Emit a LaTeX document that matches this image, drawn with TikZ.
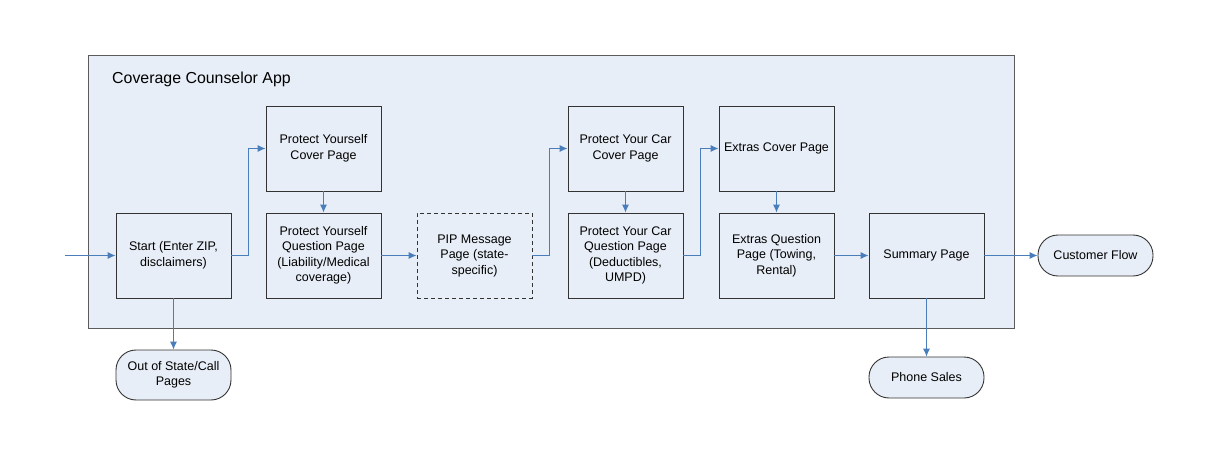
\documentclass[tikz,border=0pt]{standalone}
\usepackage{fontspec}
\setmainfont{Liberation Sans}
\usetikzlibrary{arrows.meta}
\definecolor{appfill}{HTML}{E8EEF7}
\definecolor{flowblue}{HTML}{4A7EBB}
\definecolor{edgegray}{HTML}{333333}
\tikzset{
	pagebox/.style={shape=rectangle, draw=edgegray, fill=appfill, line width=0.9pt, minimum width=115pt, minimum height=85pt, inner sep=2pt, align=center, font=\fontsize{12.5}{15.5}\selectfont},
	termbox/.style={shape=rectangle, rounded corners=20pt, draw=edgegray, fill=appfill, line width=0.9pt, minimum width=115pt, minimum height=41pt, inner sep=2pt, align=center, font=\fontsize{12.5}{15.5}\selectfont},
	flow/.style={draw=flowblue, line width=0.9pt, -{Latex[length=8pt,width=7pt]}}
}
\begin{document}
\begin{tikzpicture}[x=1pt, y=-1pt]
	\useasboundingbox (0,0) rectangle (1216,468);
	% Container and title:
	\node[shape=rectangle, draw=edgegray!80, fill=appfill, line width=1pt, minimum width=926pt, minimum height=272pt](app) at (551, 192){};
	\node[anchor=west, inner sep=0pt, font=\fontsize{15.9}{18}\selectfont](title) at (112, 79){Coverage Counselor App};
	% Pages:
	\node[pagebox](start) at (173.5, 255.5){Start (Enter ZIP,\\disclaimers)};
	\node[pagebox](pycover) at (323.5, 148.5){Protect Yourself\\Cover Page};
	\node[pagebox](pyquest) at (323.5, 255.5){Protect Yourself\\Question Page\\(Liability/Medical\\coverage)};
	\node[pagebox, dash pattern=on 4pt off 3pt](pip) at (474.5, 255.5){PIP Message\\Page (state-\\specific)};
	\node[pagebox](carcover) at (625.5, 148.5){Protect Your Car\\Cover Page};
	\node[pagebox](carquest) at (625.5, 255.5){Protect Your Car\\Question Page\\(Deductibles,\\UMPD)};
	\node[pagebox](excover) at (776.5, 148.5){Extras Cover Page};
	\node[pagebox](exquest) at (776.5, 255.5){Extras Question\\Page (Towing,\\Rental)};
	\node[pagebox](summary) at (926.5, 255.5){Summary Page};
	% Terminals:
	\node[termbox](customer) at (1095.5, 255.5){Customer Flow};
	\node[termbox, minimum height=50pt](outstate) at (173.5, 375){Out of State/Call\\Pages};
	\node[termbox](phone) at (926.5, 377.5){Phone Sales};
	\coordinate (entry) at (65, 255.5);
	% Connectors:
	\draw[flow] (entry) -- (start.west);
	\draw[flow] (start.east) -- ++(17,0) |- (pycover.west);
	\draw[flow] (pycover.south) -- (pyquest.north);
	\draw[flow] (pyquest.east) -- (pip.west);
	\draw[flow] (pip.east) -- ++(17,0) |- (carcover.west);
	\draw[flow] (carcover.south) -- (carquest.north);
	\draw[flow] (carquest.east) -- ++(17,0) |- (excover.west);
	\draw[flow] (excover.south) -- (exquest.north);
	\draw[flow] (exquest.east) -- (summary.west);
	\draw[flow] (summary.east) -- (customer.west);
	\draw[flow] (summary.south) -- (phone.north);
	\draw[flow] (start.south) -- (outstate.north);
\end{tikzpicture}
\end{document}
